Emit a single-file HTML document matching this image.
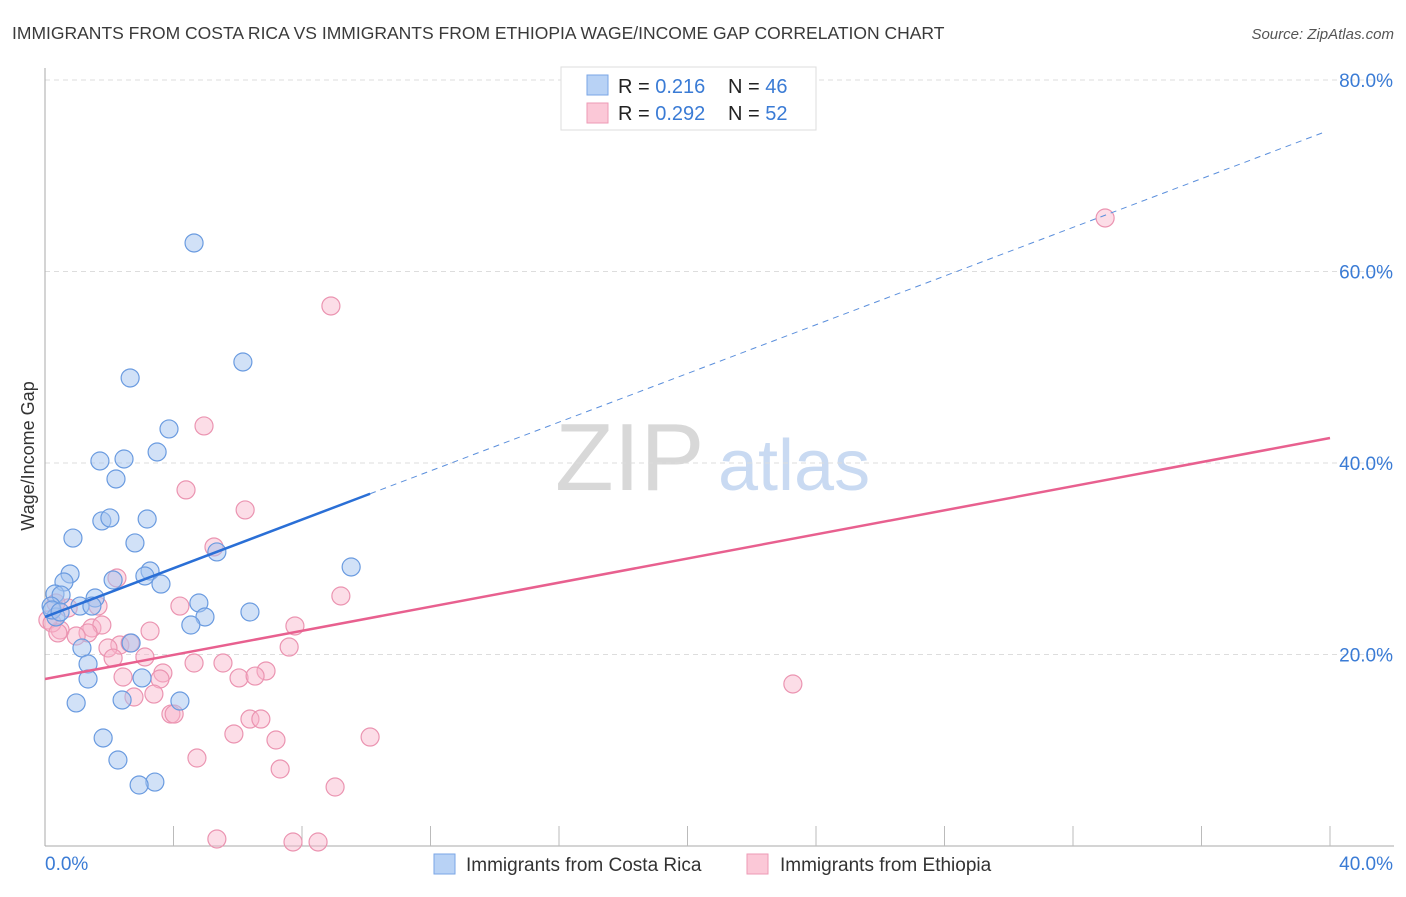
<!DOCTYPE html>
<html><head><meta charset="utf-8"><style>
body{margin:0;background:#fff;font-family:"Liberation Sans",sans-serif;}
svg text{font-family:"Liberation Sans",sans-serif;}
</style></head><body>
<svg id="chart" width="1406" height="892" xmlns="http://www.w3.org/2000/svg">
<text x="12" y="39" font-size="17.5" fill="#3a3a3a">IMMIGRANTS FROM COSTA RICA VS IMMIGRANTS FROM ETHIOPIA WAGE/INCOME GAP CORRELATION CHART</text>
<text x="1394" y="39" font-size="15" fill="#555" font-style="italic" text-anchor="end">Source: ZipAtlas.com</text>
<g>
<text x="555" y="490" font-size="96" fill="#d8d8d8" font-family="Liberation Serif, serif">ZIP</text>
<text x="718" y="490" font-size="72" fill="#c9daf2">atlas</text>
</g>
<g id="grid"></g>
<g id="axes"></g>
<g id="lines"></g>
<g id="points"></g>
<text transform="translate(34,456) rotate(-90)" font-size="18" fill="#333" text-anchor="middle">Wage/Income Gap</text>
<g>
<rect x="561" y="67" width="255" height="63" fill="#fff" stroke="#ddd"/>
<rect x="587" y="75" width="21" height="20" fill="#b8d2f5" stroke="#7aa6e6"/>
<rect x="587" y="103" width="21" height="20" fill="#fbc8d7" stroke="#ee9ab5"/>
<text x="618" y="93" font-size="20" fill="#222">R = <tspan fill="#3a7bd5">0.216</tspan></text>
<text x="728" y="93" font-size="20" fill="#222">N = <tspan fill="#3a7bd5">46</tspan></text>
<text x="618" y="120" font-size="20" fill="#222">R = <tspan fill="#3a7bd5">0.292</tspan></text>
<text x="728" y="120" font-size="20" fill="#222">N = <tspan fill="#3a7bd5">52</tspan></text>
</g>
<g>
<rect x="434" y="854" width="21" height="20" fill="#b8d2f5" stroke="#7aa6e6"/>
<text x="466" y="871" font-size="19" fill="#333">Immigrants from Costa Rica</text>
<rect x="747" y="854" width="21" height="20" fill="#fbc8d7" stroke="#ee9ab5"/>
<text x="780" y="871" font-size="19" fill="#333">Immigrants from Ethiopia</text>
</g>
</svg>
<script>
const blueX=[4.64,2.65,6.16,3.86,3.49,1.71,2.46,2.21,1.77,2.02,3.18,0.87,2.80,5.35,9.53,0.78,0.59,2.12,3.27,3.11,3.61,0.31,0.50,1.56,1.09,1.46,4.79,0.19,6.38,0.34,4.98,4.54,0.22,2.68,1.15,1.34,1.34,3.02,2.40,4.20,0.97,1.81,2.27,3.42,2.93,0.47];
const blueY=[62.98,48.88,50.55,43.56,41.15,40.21,40.42,38.33,33.95,34.26,34.15,32.16,31.65,30.71,29.14,28.41,27.57,27.78,28.72,28.20,27.36,26.32,26.21,25.90,25.06,25.06,25.38,25.06,24.44,23.92,23.92,23.08,24.65,21.20,20.68,19.01,17.44,17.55,15.25,15.14,14.94,11.28,8.98,6.68,6.37,24.44];
const pinkX=[33.00,8.90,4.95,4.39,6.23,5.26,2.24,9.21,4.20,0.72,1.65,0.34,7.78,1.46,3.27,1.77,1.34,0.47,0.97,2.33,2.65,7.60,1.96,3.11,2.12,4.64,5.54,3.67,3.58,6.88,6.04,6.54,2.43,3.39,2.77,3.92,4.02,6.38,6.72,5.88,7.19,10.12,4.73,7.32,9.03,23.28,5.35,7.72,8.50,0.09,0.22,0.40];
const pinkY=[65.59,56.40,43.87,37.19,35.10,31.23,27.99,26.11,25.06,24.86,25.06,25.38,22.98,22.77,22.45,23.08,22.25,22.56,21.93,20.99,21.20,20.78,20.68,19.74,19.63,19.11,19.11,18.07,17.44,18.28,17.55,17.75,17.65,15.87,15.56,13.78,13.78,13.26,13.26,11.70,11.07,11.38,9.19,8.04,6.16,16.92,0.73,0.42,0.42,23.60,23.29,22.25];
const blueTrend=[23.92,74.78];
const blueSolidEnd=10.12;
const pinkTrend=[17.44,42.61];
const yTicks=[20,40,60,80];
const yTickLabels=["20.0%","40.0%","60.0%","80.0%"];
const xTickLabels=["0.0%","40.0%"];

const NS="http://www.w3.org/2000/svg";
const X0=45,X1=1330,Y0=846,PY=9.575;
const sx=v=>X0+(X1-X0)*v/40;
const sy=v=>Y0-PY*v;
function mk(parent,tag,attrs){const e=document.createElementNS(NS,tag);for(const k in attrs)e.setAttribute(k,attrs[k]);document.getElementById(parent).appendChild(e);return e;}

yTicks.forEach((t,i)=>{
  const g=mk('grid','line',{x1:X0,x2:1394,y1:sy(t),y2:sy(t),stroke:'#ddd','stroke-dasharray':'5,4'});
  
  
  const l=mk('axes','text',{x:1393,y:sy(t)+7,'font-size':19,fill:'#3a7bd5','text-anchor':'end'});
  
  
  l.textContent=yTickLabels[i];
});
let a=mk('axes','line',{x1:X0,x2:X0,y1:68,y2:Y0,stroke:'#aaa'});


a=mk('axes','line',{x1:X0,x2:1394,y1:Y0,y2:Y0,stroke:'#aaa'});


for(let i=1;i<=10;i++){
  const t=mk('axes','line',{x1:sx(i*4),x2:sx(i*4),y1:826,y2:Y0,stroke:'#bbb'});
  
  
}
let xl=mk('axes','text',{x:45,y:870,'font-size':19,fill:'#3a7bd5'});


xl.textContent=xTickLabels[0];
xl=mk('axes','text',{x:1393,y:870,'font-size':19,fill:'#3a7bd5','text-anchor':'end'});


xl.textContent=xTickLabels[1];

pinkX.forEach((x,i)=>{
  const c=mk('points','circle',{cx:sx(x),cy:sy(pinkY[i]),r:9,fill:'rgba(248,180,202,0.45)',stroke:'#eb94b1','stroke-width':1.2});
  
  
});
blueX.forEach((x,i)=>{
  const c=mk('points','circle',{cx:sx(x),cy:sy(blueY[i]),r:9,fill:'rgba(164,196,240,0.5)',stroke:'#6a9be0','stroke-width':1.2});
  
  
});
const bAt=x=>blueTrend[0]+(blueTrend[1]-blueTrend[0])*x/40;
let ln=mk('lines','line',{x1:sx(0),y1:sy(bAt(0)),x2:sx(blueSolidEnd),y2:sy(bAt(blueSolidEnd)),stroke:'#2a6fd6','stroke-width':2.5});


ln=mk('lines','line',{x1:sx(blueSolidEnd),y1:sy(bAt(blueSolidEnd)),x2:sx(39.85),y2:sy(bAt(39.85)),stroke:'#5b8fdc','stroke-width':1,'stroke-dasharray':'6,5'});


ln=mk('lines','line',{x1:sx(0),y1:sy(pinkTrend[0]),x2:sx(40),y2:sy(pinkTrend[1]),stroke:'#e8608f','stroke-width':2.5});


document.getElementById('chart').appendChild(document.getElementById('lines'));
</script>
</body></html>
